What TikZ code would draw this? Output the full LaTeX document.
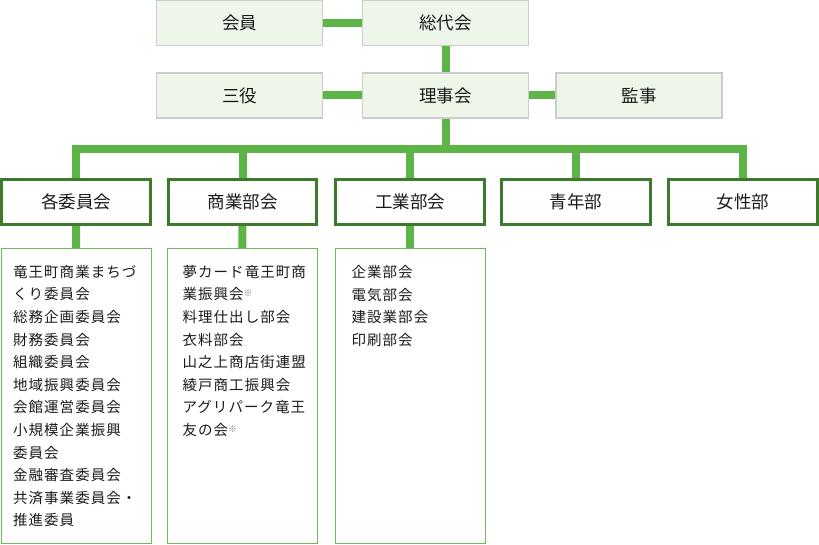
\documentclass[tikz,border=0pt]{standalone}
\usepackage{fontspec}
\usetikzlibrary{positioning}
\newfontfamily\jpfont{Noto Sans CJK JP}
\newfontfamily\jplistfont[LetterSpace=7]{Noto Sans CJK JP}
\definecolor{linkgreen}{HTML}{5DB547}
\definecolor{topfill}{HTML}{EEF6EA}
\definecolor{topline}{HTML}{CCCCCC}
\definecolor{unitline}{HTML}{3D7A2B}
\definecolor{listline}{HTML}{6CBF56}
\definecolor{inkgray}{HTML}{1A1A1A}
\newcommand{\komemark}{\raisebox{3pt}{\fontsize{9pt}{9pt}\selectfont\color{gray}※}}
\tikzset{
  topbox/.style={rectangle, draw=topline, fill=topfill, line width=1.2pt, minimum width=166pt, minimum height=45pt, inner sep=0pt, outer sep=auto, text=inkgray, font={\jpfont\fontsize{17.5pt}{20pt}\selectfont}},
  unitbox/.style={rectangle, draw=unitline, fill=white, line width=2.6pt, minimum width=148.5pt, minimum height=45.5pt, inner sep=0pt, outer sep=auto, text=inkgray, font={\jpfont\fontsize{17.5pt}{20pt}\selectfont}},
  listbox/.style={rectangle, draw=listline, line width=1pt, minimum width=150pt, minimum height=295pt, inner sep=0pt, outer sep=auto},
  listtext/.style={anchor=north west, align=left, inner sep=0pt, text=inkgray, font={\jplistfont\fontsize{14.5pt}{22.6pt}\selectfont}},
  link/.style={draw=linkgreen, line width=8pt}
}
\begin{document}
\begin{tikzpicture}[x=1pt, y=-1pt]
\useasboundingbox (0,0) rectangle (819,545);
% top rows
\node[topbox](kaiin) at (239.5,23.3) {会員};
\node[topbox](sodaikai) at (445.5,23.3) {総代会};
\node[topbox](sanyaku) at (239.5,95.5) {三役};
\node[topbox](rijikai) at (445.5,95.5) {理事会};
\node[topbox](kanji) at (639,95.5) {監事};

% units
\node[unitbox](kakuiin) at (76,202) {各委員会};
\node[unitbox](shogyo) at (242.5,202) {商業部会};
\node[unitbox](kogyo) at (410,202) {工業部会};
\node[unitbox](seinen) at (576,202) {青年部};
\node[unitbox](josei) at (743,202) {女性部};

% lists
\node[listbox](kakuiinlist) at (76.5,396) {};
\node[listbox](shogyolist) at (242,396) {};
\node[listbox](kogyolist) at (410,396) {};
\node[listtext](kakuiintext) at ([shift={(12,17)}]kakuiinlist.north west) {竜王町商業まちづ\\くり委員会\\総務企画委員会\\財務委員会\\組織委員会\\地域振興委員会\\会館運営委員会\\小規模企業振興\\委員会\\金融審査委員会\\共済事業委員会・\\推進委員};
\node[listtext](shogyotext) at ([shift={(16,17)}]shogyolist.north west) {夢カード竜王町商\\業振興会\komemark\\料理仕出し部会\\衣料部会\\山之上商店街連盟\\綾戸商工振興会\\アグリパーク竜王\\友の会\komemark};
\node[listtext](kogyotext) at ([shift={(17,17)}]kogyolist.north west) {企業部会\\電気部会\\建設業部会\\印刷部会};

% links
\coordinate (bus) at (445.5,149);
\draw[link] (kaiin) -- (sodaikai);
\draw[link] (sodaikai) -- (rijikai);
\draw[link] (sanyaku) -- (rijikai);
\draw[link] (rijikai) -- (kanji);
\draw[link] (rijikai.south) -- (bus);
\foreach \u in {kakuiin,shogyo,kogyo,seinen,josei}
  \draw[link] (bus) -| (\u.north);
\draw[link] (kakuiin) -- (kakuiinlist);
\draw[link] (shogyo) -- (shogyolist);
\draw[link] (kogyo) -- (kogyolist);
\end{tikzpicture}
\end{document}
